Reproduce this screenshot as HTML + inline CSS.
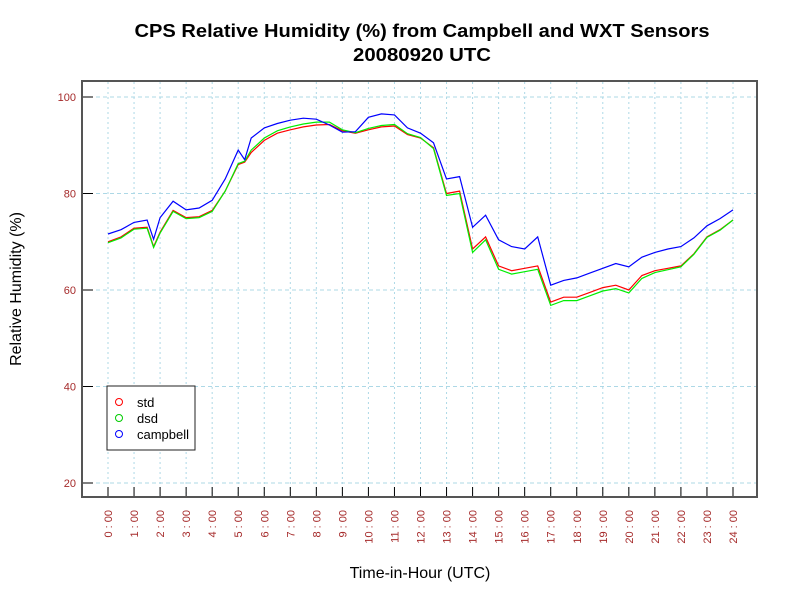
<!DOCTYPE html>
<html><head><meta charset="utf-8"><style>
body{margin:0;background:#fff;}
svg{display:block;font-family:"Liberation Sans",sans-serif;}
</style></head><body>
<svg id="chart" width="800" height="600" viewBox="0 0 800 600">
<rect width="800" height="600" fill="#fff"/>
<text x="422" y="37" text-anchor="middle" font-size="18" font-weight="bold" textLength="575" lengthAdjust="spacingAndGlyphs">CPS Relative Humidity (%) from Campbell and WXT Sensors</text>
<text x="422" y="61" text-anchor="middle" font-size="18" font-weight="bold" textLength="138" lengthAdjust="spacingAndGlyphs">20080920  UTC</text>
<g id="grid"></g>
<g id="axes"></g>
<g id="series"></g>
<rect x="82" y="81" width="675" height="416" fill="none" stroke="#555" stroke-width="2"/>
<text x="420" y="578" text-anchor="middle" font-size="16">Time-in-Hour (UTC)</text>
<text transform="translate(21,289) rotate(-90)" text-anchor="middle" font-size="16">Relative Humidity (%)</text>
<g>
<rect x="107" y="386" width="88" height="64" fill="#fff" stroke="#222"/>
<circle cx="119" cy="402" r="3.5" fill="none" stroke="#f00"/>
<text x="137" y="407" font-size="13">std</text>
<circle cx="119" cy="418" r="3.5" fill="none" stroke="#0c0"/>
<text x="137" y="423" font-size="13">dsd</text>
<circle cx="119" cy="434" r="3.5" fill="none" stroke="#00f"/>
<text x="137" y="439" font-size="13">campbell</text>
</g>
</svg>
<script>
const times = [0,0.5,1,1.5,1.75,2,2.5,3,3.5,4,4.5,5,5.25,5.5,6,6.5,7,7.5,8,8.5,9,9.5,10,10.5,11,11.5,12,12.5,13,13.5,14,14.5,15,15.5,16,16.5,17,17.5,18,18.5,19,19.5,20,20.5,21,21.5,22,22.5,23,23.5,24];
const campbell = [71.6,72.5,74,74.5,70.5,75,78.4,76.6,77,78.6,83,89,87,91.5,93.6,94.5,95.2,95.6,95.4,94.2,92.7,92.8,95.8,96.5,96.3,93.6,92.5,90.5,83,83.5,73,75.5,70.4,69,68.5,71,61,62,62.5,63.5,64.5,65.5,64.8,66.8,67.8,68.5,69,70.8,73.3,74.8,76.6];
const std = [70,71,72.8,73,69,72,76.5,75,75.2,76.5,80.5,86,86.5,88.5,91,92.5,93.2,93.8,94.2,94.3,93,92.5,93.2,93.8,94,92.2,91.5,89.5,80,80.5,68.5,71,65,64,64.5,65,57.5,58.5,58.5,59.5,60.5,61,60,63,64,64.5,65,67.5,71,72.5,74.5];
const dsd = [69.8,70.8,72.6,72.8,68.8,71.8,76.3,74.8,75,76.3,80.5,86.2,86.7,89,91.5,93,93.8,94.4,94.8,94.8,93.2,92.6,93.5,94.1,94.3,92.4,91.6,89.3,79.6,80,67.8,70.4,64.3,63.3,63.8,64.3,56.8,57.8,57.8,58.8,59.8,60.3,59.4,62.4,63.6,64.2,64.8,67.4,70.9,72.4,74.5];
const yTicks = [20,40,60,80,100];
const xTickLabels = ["0:00","1:00","2:00","3:00","4:00","5:00","6:00","7:00","8:00","9:00","10:00","11:00","12:00","13:00","14:00","15:00","16:00","17:00","18:00","19:00","20:00","21:00","22:00","23:00","24:00"];

const NS="http://www.w3.org/2000/svg";
function xs(h){return 108+h*(625/24);}
function ys(v){return 97+(100-v)*(386/80);}
function mk(tag,attrs,parent){const e=document.createElementNS(NS,tag);for(const k in attrs)e.setAttribute(k,attrs[k]);parent.appendChild(e);return e;}
const grid=document.getElementById('grid'),axes=document.getElementById('axes'),series=document.getElementById('series');
yTicks.forEach(v=>{
  const g=mk('line',{x1:82,x2:757,y1:ys(v),y2:ys(v),stroke:'#add8e6','stroke-dasharray':'4,3'},grid);
  
  
  const t=mk('line',{x1:82,x2:93,y1:ys(v),y2:ys(v),stroke:'#000'},axes);
  
  
  const l=mk('text',{x:76,y:ys(v)+4,'text-anchor':'end','font-size':11,fill:'#a52a2a'},axes);
  l.textContent=v;
  
  
});
xTickLabels.forEach((lab,i)=>{
  const x=xs(i);
  const g=mk('line',{x1:x,x2:x,y1:82,y2:496,stroke:'#add8e6','stroke-dasharray':'2,3'},grid);
  
  
  const t=mk('line',{x1:x,x2:x,y1:487,y2:497,stroke:'#000'},axes);
  
  
  const l=mk('text',{transform:'translate('+(x+4)+',510) rotate(-90)','text-anchor':'end','font-size':11,fill:'#a52a2a'},axes);
  l.textContent=lab.replace(':',' : ');
  
  
});
function line(vals,color,name){
  const d=vals.map((v,i)=>(i?'L':'M')+xs(times[i]).toFixed(1)+','+ys(v).toFixed(1)).join('');
  const p=mk('path',{d:d,fill:'none',stroke:color,'stroke-width':1.2},series);
  
  
}
line(std,'#f00','std-line');
line(dsd,'#0e0','dsd-line');
line(campbell,'#00f','campbell-line');
</script>
</body></html>
